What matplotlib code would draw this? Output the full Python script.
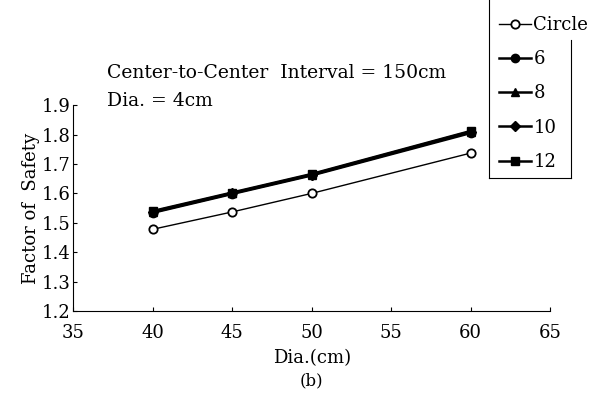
import numpy as np
import matplotlib.pyplot as plt
from matplotlib.lines import Line2D

plt.rcParams['font.family'] = ['DejaVu Serif']

# data
dia = [40, 45, 50, 60]
fs_circle = [1.478, 1.537, 1.600, 1.737]
fs_6 = [1.534, 1.598, 1.661, 1.805]
fs_8 = [1.536, 1.600, 1.663, 1.808]
fs_10 = [1.538, 1.601, 1.664, 1.810]
fs_12 = [1.540, 1.603, 1.666, 1.812]

fig = plt.figure(figsize=(6.04, 4.01), dpi=100)
ax = fig.add_axes([0.121, 0.224, 0.790, 0.514])

ax.plot(dia, fs_circle, '-o', color='black', lw=1.0, ms=6, mfc='white', mew=1.3, label='Circle')
ax.plot(dia, fs_6, '-o', color='black', lw=1.8, ms=6, label='6')
ax.plot(dia, fs_8, '-^', color='black', lw=1.8, ms=6, label='8')
ax.plot(dia, fs_10, '-D', color='black', lw=1.8, ms=5, label='10')
ax.plot(dia, fs_12, '-s', color='black', lw=1.8, ms=6, label='12')

ax.set_xlim(35, 65)
ax.set_ylim(1.2, 1.9)
ax.set_xticks([35, 40, 45, 50, 55, 60, 65])
ax.set_yticks(np.arange(1.2, 1.91, 0.1))
ax.yaxis.set_major_formatter(plt.FormatStrFormatter('%.1f'))
ax.tick_params(direction='in', length=3, labelsize=13)
ax.tick_params(axis='x', pad=9)
ax.tick_params(axis='y', pad=2)
ax.spines['top'].set_visible(False)
ax.spines['right'].set_visible(False)

ax.set_xlabel('Dia.(cm)', fontsize=13, labelpad=5)
ax.set_ylabel('Factor of  Safety', fontsize=13, labelpad=1)

fig.text(107 / 604, 1 - 73 / 401, 'Center-to-Center  Interval = 150cm', fontsize=13.5, va='center')
fig.text(107 / 604, 1 - 101 / 401, 'Dia. = 4cm', fontsize=13.5, va='center')
fig.text(311 / 604, 1 - 381 / 401, '(b)', fontsize=12, ha='center', va='center')

# legend, open at the top like in the scan
leg = fig.legend(loc='upper left', bbox_to_anchor=(499 / 604, 1 - 16 / 401),
                 frameon=False, fontsize=13,
                 handlelength=1.75, handletextpad=0.15, labelspacing=0.9,
                 borderpad=0, borderaxespad=0)
for x0, x1, y0, y1 in [(489, 489, 0, 178), (489, 571, 178, 178), (571, 571, 40, 178)]:
    fig.add_artist(Line2D([x0 / 604, x1 / 604], [1 - y0 / 401, 1 - y1 / 401],
                          color='black', lw=0.8, transform=fig.transFigure))

fig.savefig('out.png', dpi=100)
